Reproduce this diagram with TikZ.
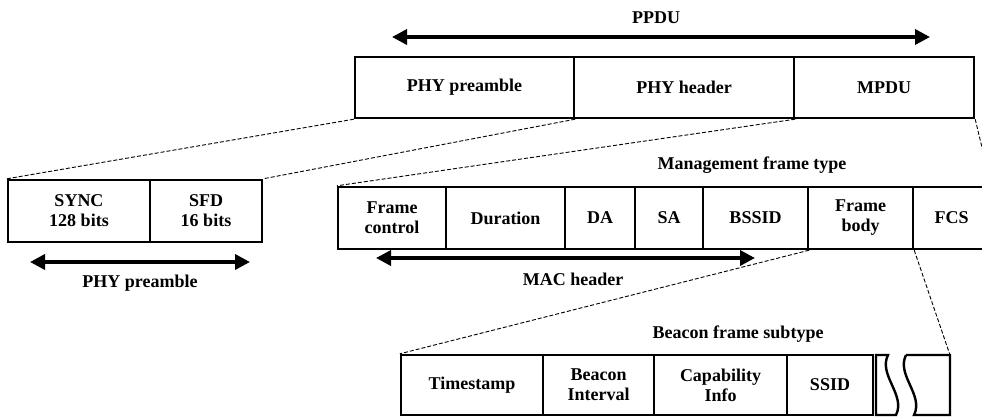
\documentclass[tikz,border=0pt]{standalone}
\usepackage{fontspec}
\setmainfont{Liberation Serif}
\usetikzlibrary{arrows.meta}
\tikzset{
  cell/.style={draw, line width=2.4pt, inner sep=0pt, align=center,
    font=\bfseries\fontsize{18}{20}\selectfont},
  lbl/.style={inner sep=0pt, font=\bfseries\fontsize{18}{20}\selectfont},
  zoomline/.style={line width=0.9pt, dash pattern=on 4pt off 2pt},
  span/.style={line width=3.5pt, {Triangle[length=15pt,width=15pt]}-{Triangle[length=15pt,width=15pt]}},
}
\begin{document}
\begin{tikzpicture}[x=1pt,y=-1pt]
\useasboundingbox (0,0) rectangle (982,417);
% top row
\node[lbl] (ppdu) at (656,18) {PPDU};
\coordinate (ppduL) at (392,37);
\coordinate (ppduR) at (930,37);
\draw[span] (ppduL) -- (ppduR);
\node[cell, minimum width=219pt, minimum height=61pt] (phypre) at (464.5,87.5) {PHY preamble};
\node[cell, minimum width=220pt, minimum height=61pt] (phyhdr) at (684,87.5) {PHY header};
\node[cell, minimum width=180pt, minimum height=61pt] (mpdu) at (884,87.5) {MPDU};
% left row
\node[cell, minimum width=142pt, minimum height=62pt] (sync) at (79,211) {SYNC\\128 bits};
\node[cell, minimum width=112pt, minimum height=62pt] (sfd) at (206,211) {SFD\\16 bits};
\coordinate (preL) at (30,262);
\coordinate (preR) at (250,262);
\draw[span] (preL) -- (preR);
\node[lbl] (prelbl) at (140,283) {PHY preamble};
% middle row
\node[lbl] (mgmt) at (752,165) {Management frame type};
\node[cell, minimum width=108pt, minimum height=62pt] (fc) at (392,218) {Frame\\control};
\node[cell, minimum width=119pt, minimum height=62pt] (dur) at (505.5,218) {Duration};
\node[cell, minimum width=70pt, minimum height=62pt] (da) at (600,218) {DA};
\node[cell, minimum width=68pt, minimum height=62pt] (sa) at (669,218) {SA};
\node[cell, minimum width=105pt, minimum height=62pt] (bssid) at (755.5,218) {BSSID};
\node[cell, minimum width=105pt, minimum height=62pt] (fbody) at (860.5,218) {Frame\\body};
\node[cell, minimum width=77pt, minimum height=62pt] (fcs) at (951.5,218) {FCS};
\coordinate (macL) at (376,258);
\coordinate (macR) at (755,258);
\draw[span] (macL) -- (macR);
\node[lbl] (maclbl) at (573,279) {MAC header};
% bottom row
\node[lbl] (beacon) at (738,334) {Beacon frame subtype};
\node[cell, minimum width=142pt, minimum height=60pt] (ts) at (472,385) {Timestamp};
\node[cell, minimum width=111pt, minimum height=60pt] (bi) at (598.5,385) {Beacon\\Interval};
\node[cell, minimum width=133pt, minimum height=60pt] (ci) at (720.5,385) {Capability\\Info};
\node[cell, minimum width=86pt, minimum height=60pt] (ssid) at (830,385) {SSID};
\draw[line width=2.4pt, line join=miter] (876,355) -- (888,355) .. controls (878,375) and (906,395) .. (896,415) -- (876,415) -- cycle;
\draw[line width=2.4pt, line join=miter] (906,355) -- (950,355) -- (950,415) -- (914,415) .. controls (924,395) and (896,375) .. (906,355);
\coordinate (brkNE) at (950,355);
% zoom lines
\draw[zoomline] (phypre.south west) -- (sync.north west);
\draw[zoomline] (phypre.south east) -- (sfd.north east);
\draw[zoomline] (phyhdr.south east) -- (fc.north west);
\draw[zoomline] (mpdu.south east) -- (fcs.north east);
\draw[zoomline] (bssid.south east) -- (ts.north west);
\draw[zoomline] (fbody.south east) -- (brkNE);
\end{tikzpicture}
\end{document}
